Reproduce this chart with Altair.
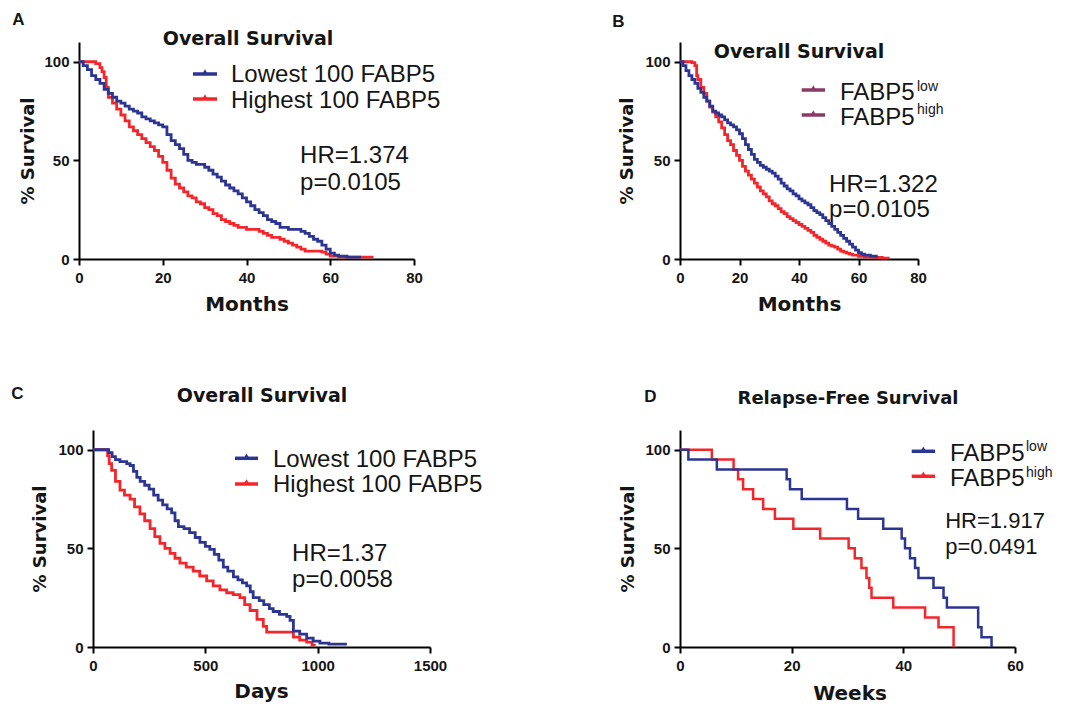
import altair as alt
import pandas as pd

BLUE = "#2c3592"
RED = "#f3262b"
PURPLE = "#8b3a66"
INK = "#151515"
SANS = "Liberation Sans"
BOLD = "DejaVu Sans"

# ---------------- data ----------------
# Panel A: months
A_LOW_T = [0, 1, 2, 3, 4, 5, 6, 7, 8, 9, 10, 11, 12, 13, 14, 15, 16, 17, 18, 19, 20, 21, 22, 23, 24, 25, 26, 27, 28, 29,
           30, 31, 32, 33, 34, 35, 36, 37, 38, 39, 40, 41, 42, 43, 44, 45, 46, 47, 48, 50, 52, 53, 54, 55, 56, 57, 58,
           59, 60, 61, 62, 64, 67]
A_LOW_S = [100, 98, 96, 93, 91, 89, 86, 84, 82, 80, 79, 77.5, 76, 75, 74, 72, 71, 70, 69, 68, 67, 63, 60, 58, 56, 53, 50,
           49, 48, 48, 46.5, 45, 43, 41.5, 39.5, 37.5, 36, 34.5, 33, 31, 29, 27, 25, 23.5, 22, 20, 19, 18, 16, 15, 15,
           14, 13, 11.5, 10, 9, 7, 5, 3, 2, 1.5, 1, 0.3]
A_HIGH_T = [0, 2, 4, 5, 5.5, 6, 6.5, 7, 8, 9, 10, 11, 12, 13, 14, 15, 16, 17, 18, 19, 20, 21, 22, 23, 24, 25, 26, 27, 28,
            29, 30, 31, 32, 33, 34, 35, 36, 37, 38, 40, 42, 43, 44, 45, 46, 47, 48, 49, 50, 51, 52, 53, 54, 58, 59, 60,
            62, 66, 70]
A_HIGH_S = [100, 100, 99, 97, 95, 92, 87, 82, 79, 76, 73, 70, 67, 65, 63, 61, 59, 57, 55, 52, 49, 45, 41, 38, 36, 34, 32,
            31, 29, 28, 26, 25, 23, 22, 20, 19, 18, 17, 16, 15, 15, 14, 13, 12, 11, 11, 10, 9, 8, 7, 6, 5, 4, 3.5, 2.5,
            1.5, 1, 1, 0.5]

# Panel B: months
B_LOW_T = [0, 1, 2, 3, 4, 5, 6, 7, 8, 9, 10, 11, 12, 13, 14, 15, 16, 17, 18, 19, 20, 21, 22, 23, 24, 25, 26, 27, 28, 29,
           30, 31, 32, 33, 34, 35, 36, 37, 38, 39, 40, 41, 42, 43, 44, 45, 46, 47, 48, 49, 50, 51, 52, 53, 54, 55, 56,
           57, 58, 59, 60, 61, 62, 64, 66]
B_LOW_S = [100, 98, 95.5, 93, 91, 89, 86.5, 84.5, 82, 80, 77.5, 75, 74, 73, 72, 70.5, 69, 68, 67, 65.5, 63.5, 61, 58,
           55.5, 53, 50.5, 49, 47.5, 46.5, 45.5, 44.5, 43.5, 42, 40.5, 38.5, 37, 35.5, 34.5, 33, 32, 30.5, 29.5, 28.5,
           27.5, 26, 24.5, 23.5, 22.5, 21, 19.5, 18, 16.5, 15, 13.5, 12, 10.5, 9, 7.5, 6, 4.5, 3.2, 2.5, 2, 1.5, 0.5]
B_HIGH_T = [0, 2, 3, 4, 5, 5.6, 6, 7, 8, 9, 10, 11, 12, 13, 14, 15, 16, 17, 18, 19, 20, 21, 22, 23, 24, 25, 26, 27, 28,
            29, 30, 31, 32, 33, 34, 35, 36, 37, 38, 39, 40, 41, 42, 43, 44, 45, 46, 47, 48, 49, 50, 51, 52, 53, 54, 55,
            56, 57, 58, 60, 62, 65, 68, 70]
B_HIGH_S = [100, 100, 100, 99.5, 98, 93, 91, 87, 84, 80, 77, 74.5, 72, 69.5, 66.5, 63, 60, 58, 55, 52.5, 50, 47, 44.5,
            42.5, 40.5, 38.5, 36.5, 34.5, 33, 31.5, 29.5, 28, 27, 25.5, 24, 23, 21.5, 20.5, 19.5, 18.5, 17.5, 16.5,
            15.5, 14.5, 13.5, 12, 11, 10, 9, 8, 7, 6.5, 6, 5, 4, 3.5, 3, 2.5, 2, 1.3, 1, 0.8, 0.4, 0]

# Panel C: days
C_LOW_T = [0, 61, 70, 85, 100, 120, 150, 165, 180, 195, 210, 230, 250, 270, 290, 310, 330, 350, 365, 380, 405, 430, 455,
           476, 500, 520, 540, 560, 580, 600, 625, 645, 665, 684, 700, 713, 740, 760, 785, 802, 830, 862, 877, 892, 920,
           951, 980, 1010, 1050, 1130]
C_LOW_S = [100, 100, 98.5, 96.5, 95, 94, 93, 92, 89, 86, 84, 82, 80, 77, 74.5, 72, 70, 68, 64, 61, 60, 58, 55.5, 53, 51,
           49.5, 47, 44, 40.5, 38.5, 35.5, 34, 32.5, 31, 28, 25, 23.5, 21.5, 19.5, 18, 16.5, 15.5, 13.5, 8, 6.5, 4.5,
           3, 2, 1.5, 1.5]
C_HIGH_T = [0, 61, 65, 72, 83, 100, 120, 140, 165, 185, 209, 230, 254, 275, 298, 320, 343, 365, 387, 415, 446, 475, 506,
            535, 565, 595, 624, 654, 675, 699, 730, 758, 773, 862, 892, 920, 951, 975, 985]
C_HIGH_S = [100, 100, 97, 93, 89.5, 84, 79.5, 77, 75, 71, 67.5, 64, 60, 56, 52.5, 50, 47.5, 45, 42.5, 40.5, 38.5, 36,
            33.5, 31, 29, 27.5, 26.5, 25, 21.5, 18.5, 14, 10.5, 7.5, 7.5, 5, 3.5, 2.5, 1, 0.5]

# Panel D: weeks
D_LOW_T = [0, 1.5, 6.6, 19.1, 19.7, 21.8, 29.9, 31.9, 36.4, 39.7, 40.3, 41.2, 42.1, 42.7, 45.4, 47.2, 47.8, 53.4, 54, 55.8]
D_LOW_S = [100, 95, 90, 85, 80, 75, 70, 65, 60, 55, 50, 45, 40, 35, 30, 25, 20, 10, 5, 0]
D_HIGH_T = [0, 5.7, 9.6, 10.4, 11.3, 13.1, 14.9, 17, 20.3, 25.1, 30.2, 31.3, 32.5, 33.4, 33.9, 34.3, 38.2, 43.9, 46.3, 49]
D_HIGH_S = [100, 95, 90, 85, 80, 75, 70, 65, 60, 55, 50, 45, 40, 35, 30, 25, 20, 15, 10, 0]

Y_TICKS = [0, 50, 100]
A_X_TICKS = [0, 20, 40, 60, 80]
B_X_TICKS = [0, 20, 40, 60, 80]
C_X_TICKS = [0, 500, 1000, 1500]
D_X_TICKS = [0, 20, 40, 60]

LEGEND_AC = ["Lowest 100 FABP5", "Highest 100 FABP5"]
LEGEND_BD = ["FABP5", "FABP5"]
SUPS = ["low", "high"]
STATS = {"A": ["HR=1.374", "p=0.0105"], "B": ["HR=1.322", "p=0.0105"],
         "C": ["HR=1.37", "p=0.0058"], "D": ["HR=1.917", "p=0.0491"]}
TITLES = {"A": "Overall Survival", "B": "Overall Survival", "C": "Overall Survival", "D": "Relapse-Free Survival"}
XTITLES = {"A": "Months", "B": "Months", "C": "Days", "D": "Weeks"}

H = 217


def txt(label, x, y, size, font=SANS, weight="normal", align="left", color=INK):
    return alt.Chart(pd.DataFrame({"label": [label]})).mark_text(
        align=align, baseline="alphabetic", font=font, fontSize=size, fontWeight=weight, color=color
    ).encode(x=alt.value(x), y=alt.value(y), text="label:N")


def stat(label, t, s, size=24):
    return alt.Chart(pd.DataFrame({"label": [label]})).mark_text(
        align="left", baseline="alphabetic", font=SANS, fontSize=size, color=INK
    ).encode(x=alt.datum(t), y=alt.datum(s), text="label:N")


def legend_line(x0, x1, y, color):
    base = alt.Chart(pd.DataFrame({"k": [0]}))
    return [
        base.mark_rule(color=color, strokeWidth=3.5).encode(x=alt.value(x0), x2=alt.value(x1), y=alt.value(y)),
        base.mark_point(shape="triangle-up", filled=True, color=color, size=26, strokeWidth=0, opacity=1).encode(
            x=alt.value((x0 + x1) / 2), y=alt.value(y - 2.5)),
    ]


def panel(key, lt, ls, ht, hs, xmax, xticks, xt_x, xt_y, yt_x, sw=2.8):
    xs = alt.Scale(domain=[0, xmax], nice=False, zero=False)
    ys = alt.Scale(domain=[0, 110], nice=False)
    xa = alt.Axis(values=xticks, format="d", title=XTITLES[key], titleX=xt_x, titleY=xt_y,
                  titleBaseline="alphabetic", titleAlign="center", titleFontSize=20, labelPadding=5)
    ya = alt.Axis(values=Y_TICKS, format="d", title="% Survival", titleAngle=270, titleX=yt_x, titleY=H / 2,
                  titleBaseline="alphabetic", titleAlign="center", titleFontSize=18, labelPadding=4)
    hi = pd.DataFrame({"t": ht, "s": hs})
    lo = pd.DataFrame({"t": lt, "s": ls})
    red = alt.Chart(hi).mark_line(interpolate="step-after", color=RED, strokeWidth=sw).encode(
        x=alt.X("t:Q", scale=xs, axis=xa), y=alt.Y("s:Q", scale=ys, axis=ya))
    blue = alt.Chart(lo).mark_line(interpolate="step-after", color=BLUE, strokeWidth=sw).encode(
        x=alt.X("t:Q", scale=xs), y=alt.Y("s:Q", scale=ys))
    return [red, blue]


LETTER_FONT = "Liberation Sans"

# ---- Panel A ----
A_layers = panel("A", A_LOW_T, A_LOW_S, A_HIGH_T, A_HIGH_S, 80, A_X_TICKS, 167.5, 51, -46)
A_layers += [stat(STATS["A"][0], 52.8, 48.7), stat(STATS["A"][1], 52.8, 35.0)]
A_layers += legend_line(114, 138, 32, BLUE) + legend_line(114, 138, 57, RED)
A_layers += [txt(LEGEND_AC[0], 152, 40, 24), txt(LEGEND_AC[1], 152, 65.5, 24)]
A_layers += [txt(TITLES["A"], 169, 3, 19, BOLD, "bold", "center"),
             txt("A", -60.5, -17, 17, LETTER_FONT, "bold", "center")]
chartA = alt.layer(*A_layers).properties(width=335, height=H)

# ---- Panel B ----
B_layers = panel("B", B_LOW_T, B_LOW_S, B_HIGH_T, B_HIGH_S, 80, B_X_TICKS, 119, 51, -48)
B_layers += [stat(STATS["B"][0], 50.1, 34.0), stat(STATS["B"][1], 50.1, 21.3)]
B_layers += legend_line(121.7, 145, 48, PURPLE) + legend_line(121.7, 145, 73, PURPLE)
B_layers += [txt(LEGEND_BD[0], 160, 58, 24), txt(LEGEND_BD[1], 160, 83, 24),
             txt(SUPS[0], 237, 48.5, 14), txt(SUPS[1], 237, 72, 14)]
B_layers += [txt(TITLES["B"], 119, 16.3, 19, BOLD, "bold", "center"),
             txt("B", -61.5, -15, 17, LETTER_FONT, "bold", "center")]
chartB = alt.layer(*B_layers).properties(width=238, height=H)

# ---- Panel C ----
C_layers = panel("C", C_LOW_T, C_LOW_S, C_HIGH_T, C_HIGH_S, 1500, C_X_TICKS, 168, 50, -48)
C_layers += [stat(STATS["C"][0], 886, 43.6), stat(STATS["C"][1], 886, 30.4)]
C_layers += legend_line(142, 165, 28.3, BLUE) + legend_line(142, 165, 54, RED)
C_layers += [txt(LEGEND_AC[0], 180, 37.3, 24), txt(LEGEND_AC[1], 180, 62.3, 24)]
C_layers += [txt(TITLES["C"], 169, -27.7, 19, BOLD, "bold", "center"),
             txt("C", -75.5, -31, 17, LETTER_FONT, "bold", "center")]
chartC = alt.layer(*C_layers).properties(width=337, height=H)

# ---- Panel D ----
D_layers = panel("D", D_LOW_T, D_LOW_S, D_HIGH_T, D_HIGH_S, 60, D_X_TICKS, 169.5, 52, -47, sw=2.5)
D_layers += [stat(STATS["D"][0], 47.5, 60.2, 22), stat(STATS["D"][1], 47.5, 47.2, 22)]
D_layers += legend_line(231.7, 255, 21.3, BLUE) + legend_line(231.7, 255, 46.3, RED)
D_layers += [txt(LEGEND_BD[0], 270, 30.7, 24), txt(LEGEND_BD[1], 270, 55.7, 24),
             txt(SUPS[0], 346, 20.7, 14), txt(SUPS[1], 346, 47, 14)]
D_layers += [txt(TITLES["D"], 168, -26, 18, BOLD, "bold", "center"),
             txt("D", -29.5, -28, 17, LETTER_FONT, "bold", "center")]
chartD = alt.layer(*D_layers).properties(width=335, height=H)


def spacer(w, top=0, bottom=H):
    return alt.Chart(pd.DataFrame({"k": [0]})).mark_rect(opacity=0).encode(
        x=alt.value(0), x2=alt.value(w), y=alt.value(top), y2=alt.value(bottom)).properties(width=w, height=H)


row1 = alt.hconcat(spacer(71, -34, 287), chartA, spacer(266), chartB, spacing=0, bounds="flush")
row2 = alt.hconcat(spacer(85, -60, 270), chartC, spacer(250), chartD, spacing=0, bounds="flush")

chart = alt.vconcat(row1, row2, spacing=41).properties(padding=0).configure_view(stroke=None).configure_axis(
    grid=False, domainColor="black", domainWidth=2, tickColor="black", tickWidth=2, tickSize=6,
    labelFont=SANS, labelFontWeight="bold", labelFontSize=15, labelColor=INK, labelFlush=False,
    titleFont=BOLD, titleFontWeight="bold", titleColor=INK,
)

chart.save("out.html", embed_options={"renderer": "svg", "actions": False})
